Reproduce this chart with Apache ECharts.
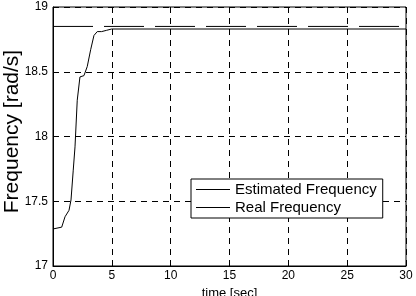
<!DOCTYPE html>
<html>
<head>
<meta charset="utf-8">
<script src="https://cdn.jsdelivr.net/npm/echarts@6/dist/echarts.min.js"></script>
<style>
  html, body { margin: 0; padding: 0; background: #fff; }
  #chart { width: 416px; height: 296px; }
</style>
</head>
<body>
<div id="chart"></div>
<script>
// time samples [sec] and estimated frequency [rad/s]
const timeSec = [0, 0.74, 1.02, 1.36, 1.53, 1.72, 1.87, 2.06, 2.29, 2.63, 2.91, 3.2, 3.48, 3.76, 4.13, 4.56, 4.98, 30];
const estimatedFreq = [17.286, 17.30, 17.38, 17.43, 17.51, 17.74, 17.92, 18.28, 18.46, 18.47, 18.54, 18.67, 18.78, 18.81, 18.81, 18.82, 18.83, 18.83];
// real frequency is constant
const realTime = [0, 30];
const realFreq = [18.85, 18.85];
const xTicks = [0, 5, 10, 15, 20, 25, 30];
const yTicks = [17, 17.5, 18, 18.5, 19];

const chart = echarts.init(document.getElementById('chart'));

const font = 'Liberation Sans, Arial, sans-serif';
const gridDash = { color: '#000', width: 1, type: [6, 5] };

chart.setOption({
  animation: false,
  backgroundColor: '#fff',
  textStyle: { fontFamily: font },
  grid: {
    left: 53, right: 10, top: 7, bottom: 30,
    containLabel: false, outerBoundsMode: 'none',
    show: true, borderColor: '#000', borderWidth: 1
  },
  xAxis: {
    type: 'value',
    min: xTicks[0], max: xTicks[xTicks.length - 1], interval: 5,
    name: 'time [sec]', nameLocation: 'middle', nameGap: 21,
    nameMoveOverlap: false,
    nameTextStyle: { fontSize: 13, color: '#000', fontFamily: font },
    axisLine: { lineStyle: { color: '#000' } },
    axisTick: { inside: true, length: 3, lineStyle: { color: '#000' } },
    axisLabel: { color: '#000', fontSize: 12, margin: 4, fontFamily: font },
    splitLine: { show: true, lineStyle: gridDash }
  },
  yAxis: {
    type: 'value',
    min: yTicks[0], max: yTicks[yTicks.length - 1], interval: 0.5,
    name: 'Frequency [rad/s]', nameLocation: 'middle', nameGap: 30,
    nameMoveOverlap: false,
    nameTextStyle: { fontSize: 21, color: '#000', fontFamily: font, padding: [0, 0, 0, 10] },
    axisLine: { lineStyle: { color: '#000' } },
    axisTick: { inside: true, length: 3, lineStyle: { color: '#000' } },
    axisLabel: { color: '#000', fontSize: 12, margin: 5, fontFamily: font },
    splitLine: { show: true, lineStyle: gridDash }
  },
  legend: {
    orient: 'vertical',
    left: 191, top: 179,
    padding: [3, 6, 3, 5],
    backgroundColor: '#fff',
    borderColor: '#000', borderWidth: 1, borderRadius: 0,
    icon: 'rect', itemWidth: 34, itemHeight: 1, itemGap: 3, itemTextGap: 4,
    textStyle: { fontSize: 15, color: '#000', fontFamily: font },
    data: [
      { name: 'Estimated Frequency', itemStyle: { color: '#000' } },
      { name: 'Real Frequency', itemStyle: { color: '#000' } }
    ]
  },
  series: [
    {
      name: 'Real Frequency',
      type: 'line',
      data: realTime.map((t, i) => [t, realFreq[i]]),
      showSymbol: false, symbol: 'none',
      lineStyle: { color: '#000', width: 1, type: [40, 11] },
      itemStyle: { color: '#000' },
      z: 3
    },
    {
      name: 'Estimated Frequency',
      type: 'line',
      data: timeSec.map((t, i) => [t, estimatedFreq[i]]),
      showSymbol: false, symbol: 'none',
      lineStyle: { color: '#000', width: 1 },
      itemStyle: { color: '#000' },
      z: 4
    }
  ]
});
</script>
</body>
</html>
